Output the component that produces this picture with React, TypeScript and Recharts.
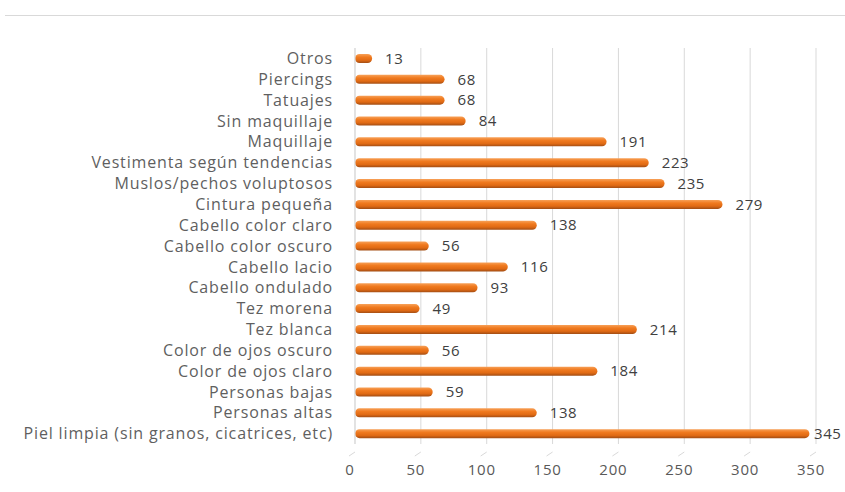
import { BarChart, Bar, XAxis, YAxis, CartesianGrid, LabelList } from "recharts";

const categories = [
  "Otros",
  "Piercings",
  "Tatuajes",
  "Sin maquillaje",
  "Maquillaje",
  "Vestimenta según tendencias",
  "Muslos/pechos voluptosos",
  "Cintura pequeña",
  "Cabello color claro",
  "Cabello color oscuro",
  "Cabello lacio",
  "Cabello ondulado",
  "Tez morena",
  "Tez blanca",
  "Color de ojos oscuro",
  "Color de ojos claro",
  "Personas bajas",
  "Personas altas",
  "Piel limpia (sin granos, cicatrices, etc)",
];

const counts = [13, 68, 68, 84, 191, 223, 235, 279, 138, 56, 116, 93, 49, 214, 56, 184, 59, 138, 345];

const xTicks = [0, 50, 100, 150, 200, 250, 300, 350];

const data = categories.map((name, i) => ({ name, value: counts[i] }));

const FONT = "'Open Sans', sans-serif";

// cylinder-ish bar like the Excel 3D one
const CylBar = (props: any) => {
  const { x, y, width, height } = props;
  if (!width || width <= 0) return null;
  const r = height / 2;
  return (
    <rect
      x={x}
      y={y}
      width={width}
      height={height}
      rx={r}
      ry={r}
      fill="url(#barGrad)"
    />
  );
};

// value label right of the bar, kept inside the picture
const ValueLabel = (props: any) => {
  const { x, y, width, height, value } = props;
  const tx = Math.min(x + width + 13, 845 - 31);
  return (
    <text
      x={tx}
      y={y + height / 2}
      dy="0.35em"
      fill="#404040"
      fontSize={15}
      letterSpacing={0.6}
      fontFamily={FONT}
    >
      {value}
    </text>
  );
};

// x ticks: small diagonal floor line plus the number
const XTick = (props: any) => {
  const { x, y, payload } = props;
  return (
    <g>
      <line x1={x} y1={y} x2={x - 6} y2={y + 4} stroke="#d9d9d9" strokeWidth={1} />
      <text
        x={x - 5}
        y={y + 23}
        textAnchor="middle"
        fill="#595959"
        fontSize={15}
        letterSpacing={0.8}
        fontFamily={FONT}
      >
        {payload.value}
      </text>
    </g>
  );
};

export default function App() {
  return (
    <div style={{ position: "absolute", left: 0, top: 0, width: 845, height: 492, background: "#fff" }}>
      <div
        style={{
          position: "absolute",
          left: 5,
          top: 15,
          width: 840,
          height: 1,
          background: "#d9d9d9",
        }}
      />
      <BarChart
        width={845}
        height={492}
        data={data}
        layout="vertical"
        margin={{ top: 48, right: 29, bottom: 0, left: 0 }}
        barSize={9}
      >
        <defs>
          <linearGradient id="barGrad" x1="0" y1="0" x2="0" y2="1">
            <stop offset="0%" stopColor="#f7a159" />
            <stop offset="35%" stopColor="#f07a1f" />
            <stop offset="70%" stopColor="#e06a14" />
            <stop offset="100%" stopColor="#a24d14" />
          </linearGradient>
        </defs>
        <CartesianGrid horizontal={false} stroke="#d9d9d9" />
        <XAxis
          type="number"
          domain={[0, 350]}
          ticks={xTicks}
          axisLine={false}
          tickLine={false}
          tick={<XTick />}
          height={48}
          interval={0}
        />
        <YAxis
          type="category"
          dataKey="name"
          width={355}
          axisLine={{ stroke: "#d9d9d9" }}
          tickLine={false}
          tickSize={0}
          tickMargin={22}
          interval={0}
          tick={{ fill: "#5f5f5f", fontSize: 16, fontFamily: FONT, letterSpacing: 0.85 }}
        />
        <Bar dataKey="value" shape={<CylBar />} isAnimationActive={false}>
          <LabelList dataKey="value" content={<ValueLabel />} />
        </Bar>
      </BarChart>
    </div>
  );
}
